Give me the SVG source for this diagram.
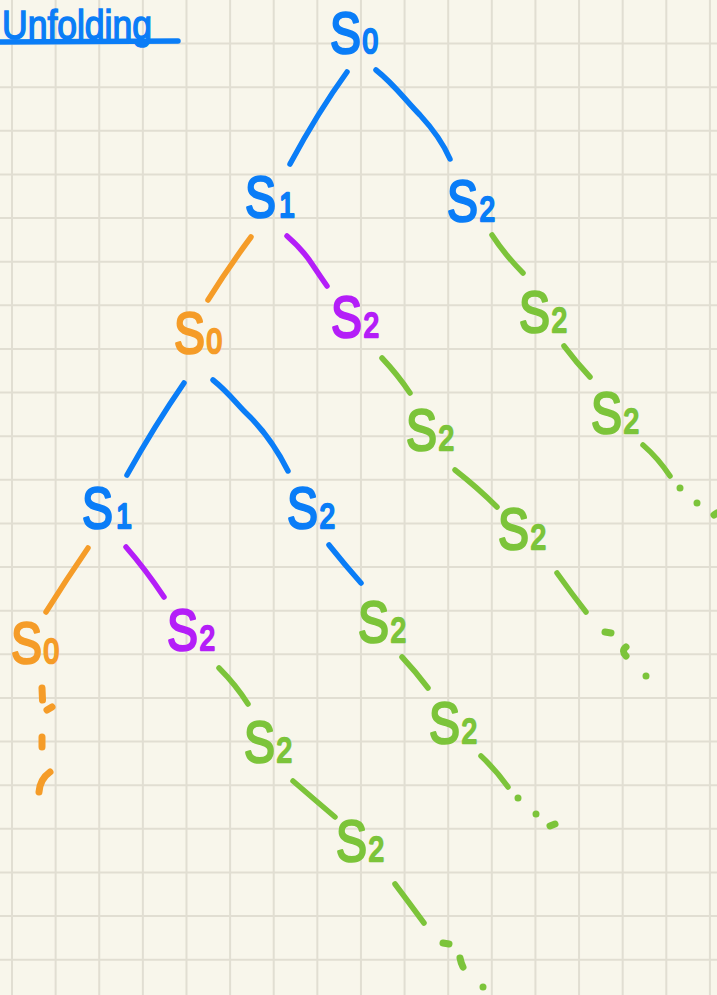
<svg xmlns="http://www.w3.org/2000/svg" width="717" height="995" viewBox="0 0 717 995">
<style>
.bg{fill:#f8f6eb}
.grid{stroke:#e1ded2;stroke-width:2;fill:none}
.c{fill:none;stroke-width:5.5;stroke-linecap:round;stroke-linejoin:round}
.d{fill:none;stroke-width:7;stroke-linecap:round;stroke-linejoin:round}
.blue{stroke:#0a7df7}
.orange{stroke:#f59c28}
.purple{stroke:#b41ef8}
.green{stroke:#7cc43a}
.lbl{font-family:"Liberation Sans","DejaVu Sans",sans-serif;font-size:58px;stroke-width:2.5;stroke-linejoin:round}
.sub{font-size:35px}
.tb{fill:#0a7df7;stroke:#0a7df7}
.to{fill:#f59c28;stroke:#f59c28}
.tp{fill:#b41ef8;stroke:#b41ef8}
.tg{fill:#7cc43a;stroke:#7cc43a}
.title{font-family:"Liberation Sans","DejaVu Sans",sans-serif;font-size:40px;fill:#0a7df7;stroke:#0a7df7;stroke-width:1.5}
</style>
<rect class="bg" x="0" y="0" width="717" height="995"/>
<g id="grid" class="grid">
<path d="M12,0V995M55.62,0V995M99.24,0V995M142.86,0V995M186.48,0V995M230.1,0V995M273.72,0V995M317.34,0V995M360.96,0V995M404.58,0V995M448.2,0V995M491.82,0V995M535.44,0V995M579.06,0V995M622.68,0V995M666.3,0V995M709.92,0V995"/>
<path d="M0,43.62H717M0,87.24H717M0,130.86H717M0,174.48H717M0,218.1H717M0,261.72H717M0,305.34H717M0,348.96H717M0,392.58H717M0,436.2H717M0,479.82H717M0,523.44H717M0,567.06H717M0,610.68H717M0,654.3H717M0,697.92H717M0,741.54H717M0,785.16H717M0,828.78H717M0,872.4H717M0,916.02H717M0,959.64H717"/>
</g>
<g id="title">
<text class="title" x="2" y="39" textLength="150" lengthAdjust="spacingAndGlyphs">Unfolding</text>
<path class="c blue" d="M0,42 L178,41"/>
</g>
<g id="connectors">
<path class="c blue" d="M347,72 Q318,112 290,164"/>
<path class="c blue" d="M376,70 C395,85 405,100 420,115 C432,128 443,143 450,159"/>
<path class="c orange" d="M251,237 Q228,268 208,300"/>
<path class="c purple" d="M287,236 Q303,250 312,264 Q320,276 327,286"/>
<path class="c green" d="M492,235 Q505,255 523,273"/>
<path class="c green" d="M564,346 Q576,362 590,377"/>
<path class="c green" d="M643,445 Q658,458 670,476"/>
<path class="d green" d="M680,488l.01,0M697,503l.01,0M714,515l3,-2"/>
<path class="c green" d="M382,358 Q398,375 410,393"/>
<path class="c green" d="M455,470 Q478,488 497,507"/>
<path class="c green" d="M557,573 Q572,594 586,612"/>
<path class="d green" d="M605,632l6,1M626,647q-5,4 0,9M646,676l.01,0"/>
<path class="c blue" d="M184,383 Q155,425 127,475"/>
<path class="c blue" d="M213,380 C228,392 235,402 245,412 C262,428 275,445 288,471"/>
<path class="c orange" d="M88,548 Q66,580 46,612"/>
<path class="c purple" d="M126,547 Q146,570 164,597"/>
<path class="c blue" d="M329,545 Q345,565 361,583"/>
<path class="c green" d="M402,657 Q416,672 428,688"/>
<path class="c green" d="M481,756 Q496,770 508,787"/>
<path class="d green" d="M518,798l.01,0M536,814l.01,0M550,826l5,-2"/>
<path class="c green" d="M219,668 Q236,685 248,704"/>
<path class="c green" d="M293,781 Q315,800 335,817"/>
<path class="c green" d="M395,884 Q410,904 424,923"/>
<path class="d green" d="M443,943l6,1M460,958q1,5 3,9M483,987l.01,0"/>
<path class="d orange" d="M42,688l.5,12M47,710l5,-3M42,737l0,10M39,792q1,-13 11,-20"/>
</g>
<g id="n_s0_top" transform="translate(330,53)"><text class="lbl tb" transform="scale(0.8,1)">S<tspan class="sub" dx="2">0</tspan></text></g>
<g id="n_s1_a" transform="translate(245,217)"><text class="lbl tb" transform="scale(0.8,1)">S<tspan class="sub" dx="4">1</tspan></text></g>
<g id="n_s2_a" transform="translate(447,221)"><text class="lbl tb" transform="scale(0.8,1)">S<tspan class="sub" dx="2">2</tspan></text></g>
<g id="n_s0_b" transform="translate(174,353)"><text class="lbl to" transform="scale(0.8,1)">S<tspan class="sub" dx="2">0</tspan></text></g>
<g id="n_s2_b" transform="translate(331,337)"><text class="lbl tp" transform="scale(0.8,1)">S<tspan class="sub" dx="2">2</tspan></text></g>
<g id="n_s2_c" transform="translate(519,332)"><text class="lbl tg" transform="scale(0.8,1)">S<tspan class="sub" dx="2">2</tspan></text></g>
<g id="n_s2_d" transform="translate(591,433)"><text class="lbl tg" transform="scale(0.8,1)">S<tspan class="sub" dx="2">2</tspan></text></g>
<g id="n_s1_c" transform="translate(82,528)"><text class="lbl tb" transform="scale(0.8,1)">S<tspan class="sub" dx="4">1</tspan></text></g>
<g id="n_s2_e" transform="translate(287,528)"><text class="lbl tb" transform="scale(0.8,1)">S<tspan class="sub" dx="2">2</tspan></text></g>
<g id="n_s2_f" transform="translate(406,450)"><text class="lbl tg" transform="scale(0.8,1)">S<tspan class="sub" dx="2">2</tspan></text></g>
<g id="n_s2_g" transform="translate(498,549)"><text class="lbl tg" transform="scale(0.8,1)">S<tspan class="sub" dx="2">2</tspan></text></g>
<g id="n_s0_d" transform="translate(11,663)"><text class="lbl to" transform="scale(0.8,1)">S<tspan class="sub" dx="2">0</tspan></text></g>
<g id="n_s2_h" transform="translate(167,650)"><text class="lbl tp" transform="scale(0.8,1)">S<tspan class="sub" dx="2">2</tspan></text></g>
<g id="n_s2_i" transform="translate(358,642)"><text class="lbl tg" transform="scale(0.8,1)">S<tspan class="sub" dx="2">2</tspan></text></g>
<g id="n_s2_j" transform="translate(429,743)"><text class="lbl tg" transform="scale(0.8,1)">S<tspan class="sub" dx="2">2</tspan></text></g>
<g id="n_s2_k" transform="translate(244,762)"><text class="lbl tg" transform="scale(0.8,1)">S<tspan class="sub" dx="2">2</tspan></text></g>
<g id="n_s2_l" transform="translate(336,861)"><text class="lbl tg" transform="scale(0.8,1)">S<tspan class="sub" dx="2">2</tspan></text></g>
</svg>
